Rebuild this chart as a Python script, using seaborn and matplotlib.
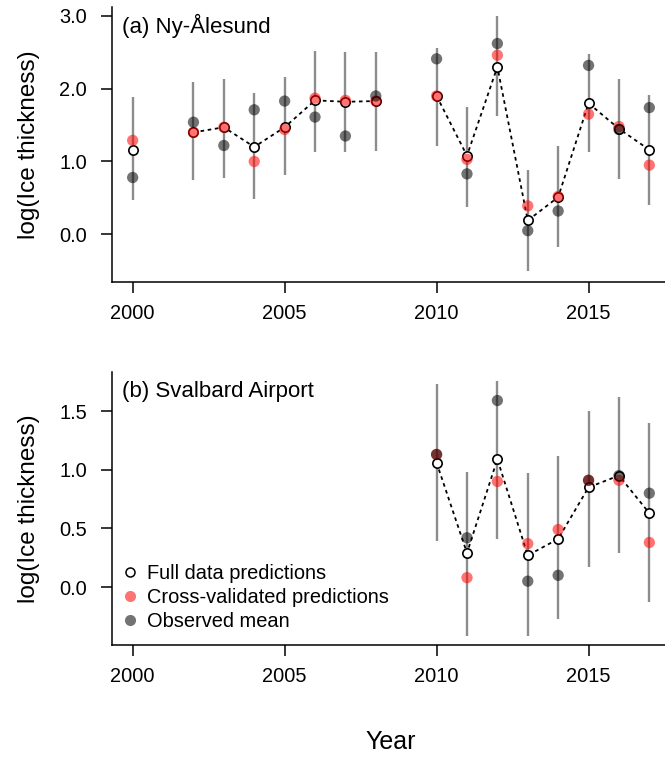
import numpy as np
import pandas as pd
import matplotlib
matplotlib.use("Agg")
import matplotlib.pyplot as plt
from matplotlib.lines import Line2D
import seaborn as sns

sns.set_theme(style="ticks")
plt.rcParams['font.family'] = ['Liberation Sans', 'DejaVu Sans']
plt.rcParams['text.color'] = 'black'
plt.rcParams['axes.labelcolor'] = 'black'

# ---------------- data ----------------
years_a = [2000, 2002, 2003, 2004, 2005, 2006, 2007, 2008, 2010, 2011, 2012, 2013, 2014, 2015, 2016, 2017]
full_a  = [1.16, 1.40, 1.47, 1.20, 1.47, 1.84, 1.82, 1.83, 1.90, 1.08, 2.30, 0.19, 0.51, 1.80, 1.45, 1.16]
cv_a    = [1.29, 1.40, 1.47, 1.00, 1.44, 1.87, 1.84, 1.83, 1.90, 1.03, 2.46, 0.39, 0.52, 1.65, 1.48, 0.95]
obs_a   = [0.78, 1.54, 1.22, 1.71, 1.83, 1.61, 1.35, 1.90, 2.41, 0.83, 2.62, 0.05, 0.32, 2.32, 1.44, 1.74]
hi_a    = [1.88, 2.09, 2.13, 1.94, 2.16, 2.52, 2.50, 2.50, 2.56, 1.75, 3.00, 0.89, 1.21, 2.48, 2.13, 1.92]
lo_a    = [0.47, 0.74, 0.78, 0.48, 0.81, 1.13, 1.13, 1.15, 1.21, 0.38, 1.62, -0.51, -0.18, 1.13, 0.76, 0.40]
seg_a   = [0, 1, 1, 1, 1, 1, 1, 1, 2, 2, 2, 2, 2, 2, 2, 2]

years_b = [2010, 2011, 2012, 2013, 2014, 2015, 2016, 2017]
full_b  = [1.06, 0.29, 1.09, 0.27, 0.41, 0.85, 0.95, 0.63]
cv_b    = [1.13, 0.08, 0.90, 0.37, 0.49, 0.91, 0.91, 0.38]
obs_b   = [1.13, 0.42, 1.59, 0.05, 0.10, 0.91, 0.95, 0.80]
hi_b    = [1.73, 0.98, 1.76, 0.97, 1.12, 1.50, 1.62, 1.40]
lo_b    = [0.39, -0.42, 0.41, -0.42, -0.27, 0.17, 0.29, -0.13]
seg_b   = [0, 0, 0, 0, 0, 0, 0, 0]

xticks = [2000, 2005, 2010, 2015]
yticks_a = [0.0, 1.0, 2.0, 3.0]
yticks_b = [0.0, 0.5, 1.0, 1.5]
titles = ["(a) Ny-Ålesund", "(b) Svalbard Airport"]
legend_labels = ["Full data predictions", "Cross-validated predictions", "Observed mean"]

W, H = 665, 757
fig = plt.figure(figsize=(W / 100, H / 100), dpi=100)

def fx(px):
    return px / W

def fy(py):
    return 1 - py / H

ax_a = fig.add_axes([fx(112), fy(281.7), fx(670) - fx(112), fy(6.7) - fy(281.7)])
ax_b = fig.add_axes([fx(112), fy(645), fx(670) - fx(112), fy(372) - fy(645)])

RED = (1.0, 0.0, 0.0, 0.55)
GREY = (0.0, 0.0, 0.0, 0.55)
BAR = (0.0, 0.0, 0.0, 0.45)
FS = 14.4

def panel(ax, years, full, cv, obs, hi, lo, seg, yticks, ylim, title):
    df = pd.DataFrame({"year": years, "full": full, "cv": cv, "obs": obs,
                       "hi": hi, "lo": lo, "seg": seg})
    ax.vlines(df["year"], df["lo"], df["hi"], color=BAR, lw=1.7, zorder=1)
    sns.lineplot(data=df, x="year", y="full", units="seg", estimator=None, ax=ax,
                 color="black", lw=1.3, linestyle=(0, (2, 2)), zorder=2, legend=False)
    ax.scatter(df["year"], df["full"], s=45, facecolor="white", edgecolor="black",
               linewidth=1.2, zorder=3)
    sns.scatterplot(data=df, x="year", y="cv", ax=ax, color=RED, s=66,
                    edgecolor="none", zorder=4, legend=False)
    sns.scatterplot(data=df, x="year", y="obs", ax=ax, color=GREY, s=66,
                    edgecolor="none", zorder=5, legend=False)
    ax.set_xlim(1999.32, 2017.68)
    ax.set_ylim(*ylim)
    ax.set_xticks(xticks)
    ax.set_xticklabels([str(t) for t in xticks])
    ax.set_yticks(yticks)
    ax.set_yticklabels([f"{t:.1f}" for t in yticks])
    ax.tick_params(axis="both", length=8, width=1.1, labelsize=FS, pad=8,
                   color="black", labelcolor="black")
    ax.tick_params(axis="y", pad=10)
    for s in ["top", "right"]:
        ax.spines[s].set_visible(False)
    for s in ["left", "bottom"]:
        ax.spines[s].set_linewidth(1.1)
        ax.spines[s].set_color("black")
    ax.set_xlabel("")
    ax.set_ylabel("log(Ice thickness)", fontsize=17.5, labelpad=14, color="black")
    ax.text(0.018, 0.93, title, transform=ax.transAxes, fontsize=16,
            ha="left", va="center", color="black")

panel(ax_a, years_a, full_a, cv_a, obs_a, hi_a, lo_a, seg_a, yticks_a, (-0.651, 3.126), titles[0])
panel(ax_b, years_b, full_b, cv_b, obs_b, hi_b, lo_b, seg_b, yticks_b, (-0.494, 1.833), titles[1])

fig.text(fx(391), fy(742), "Year", fontsize=18, ha="center", va="center", color="black")

handles = [
    Line2D([], [], ls="none", marker="o", ms=6.5, mfc="white", mec="black", mew=1.1),
    Line2D([], [], ls="none", marker="o", ms=8, mfc=RED, mec="none"),
    Line2D([], [], ls="none", marker="o", ms=8, mfc=GREY, mec="none"),
]
leg = ax_b.legend(handles, legend_labels, loc="lower left", frameon=False, fontsize=FS,
                  bbox_to_anchor=(0.004, 0.022), handlelength=0.8, handletextpad=0.45,
                  labelspacing=0.25, borderaxespad=0.0)
for t in leg.get_texts():
    t.set_color("black")

fig.savefig("out.png", dpi=100)
